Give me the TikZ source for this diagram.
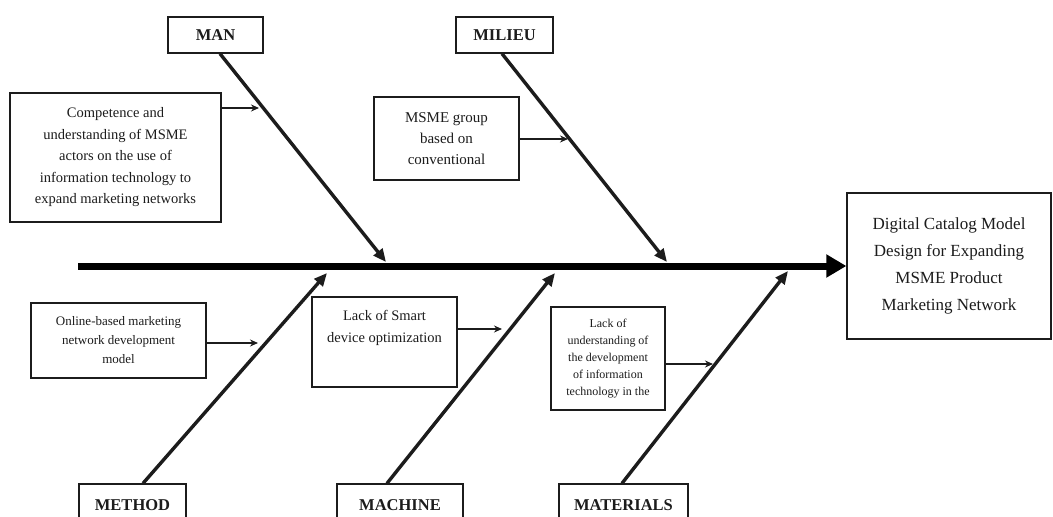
\documentclass[tikz,border=0pt]{standalone}
\usepackage{fontspec}
\setmainfont{Liberation Serif}
\usetikzlibrary{arrows.meta}
\definecolor{ink}{RGB}{28,28,28}
\begin{document}
\begin{tikzpicture}[x=1pt,y=-1pt,
 box/.style={draw=ink, line width=1.3pt, inner sep=0pt, align=center, text=ink},
 txt/.style={inner sep=0pt, align=center, text=ink},
 lab/.style={box, font=\fontsize{16.5}{20}\selectfont\bfseries, minimum height=36pt},
 bone/.style={draw=ink, line width=3.4pt, -{Triangle[length=13pt,width=11pt]}},
 feed/.style={draw=ink, line width=1.2pt, -{Stealth[length=8pt,width=7pt]}},
 spine/.style={draw=black, line width=7pt, -{Triangle[length=20pt,width=22pt]}}
]
\useasboundingbox (0,0) rectangle (1053,517);
\clip (0,0) rectangle (1053,517);
\fill[white] (0,0) rectangle (1053,517);

% target
\node[box, minimum width=204pt, minimum height=146pt, font=\fontsize{17}{27}\selectfont] (target) at (949,266)
  {Digital Catalog Model\\Design for Expanding\\MSME Product\\Marketing Network};

% category labels
\node[lab, minimum width=95pt] (man) at (215.5,35) {MAN};
\node[lab, minimum width=97pt] (milieu) at (504.5,35) {MILIEU};
\node[lab, minimum width=107pt, minimum height=42pt] (method) at (132.5,505) {METHOD};
\node[lab, minimum width=126pt, minimum height=42pt] (machine) at (400,505) {MACHINE};
\node[lab, minimum width=129pt, minimum height=42pt] (materials) at (623.5,505) {MATERIALS};

% cause boxes
\node[box, minimum width=211pt, minimum height=129pt, font=\fontsize{14.5}{21.5}\selectfont] (comp) at (115.5,157.5)
  {Competence and\\understanding of MSME\\actors on the use of\\information technology to\\expand marketing networks};
\node[box, minimum width=145pt, minimum height=83pt, font=\fontsize{15}{21}\selectfont] (msme) at (446.5,138.5)
  {MSME group\\based on\\conventional};
\node[box, minimum width=175pt, minimum height=75pt, font=\fontsize{13}{19}\selectfont] (online) at (118.5,340.5)
  {Online-based marketing\\network development\\model};
\node[box, minimum width=145pt, minimum height=90pt] (smart) at (384.5,342) {};
\node[txt, font=\fontsize{14.5}{22}\selectfont] (smarttext) at (384.5,328)
  {Lack of Smart\\device optimization};
\node[box, minimum width=114pt, minimum height=103pt, font=\fontsize{12}{17.2}\selectfont] (under) at (608,358.5)
  {Lack of\\understanding of\\the development\\of information\\technology in the};

% spine
\coordinate (tail) at (78,266);
\draw[spine] (tail) -- (target.west);

% bone ends
\coordinate (manEnd) at (386,262);
\coordinate (milEnd) at (667,262);
\coordinate (metEnd) at (327,273);
\coordinate (macEnd) at (555,273);
\coordinate (matEnd) at (788,271);

\draw[bone] ([xshift=4.5pt]man.south) -- (manEnd);
\draw[bone] ([xshift=-2.5pt]milieu.south) -- (milEnd);
\draw[bone] ([xshift=10.5pt]method.north) -- (metEnd);
\draw[bone] ([xshift=-13pt]machine.north) -- (macEnd);
\draw[bone] ([xshift=-1.5pt]materials.north) -- (matEnd);

% feed arrows
\coordinate (f1) at (259,108);
\coordinate (f2) at (568,139);
\coordinate (f3) at (258,343);
\coordinate (f4) at (502,329);
\coordinate (f5) at (713,364);
\draw[feed] ([yshift=49.5pt]comp.east) -- (f1);
\draw[feed] ([yshift=-0.5pt]msme.east) -- (f2);
\draw[feed] ([yshift=-2.5pt]online.east) -- (f3);
\draw[feed] ([yshift=13pt]smart.east) -- (f4);
\draw[feed] ([yshift=-5.5pt]under.east) -- (f5);
\end{tikzpicture}
\end{document}
